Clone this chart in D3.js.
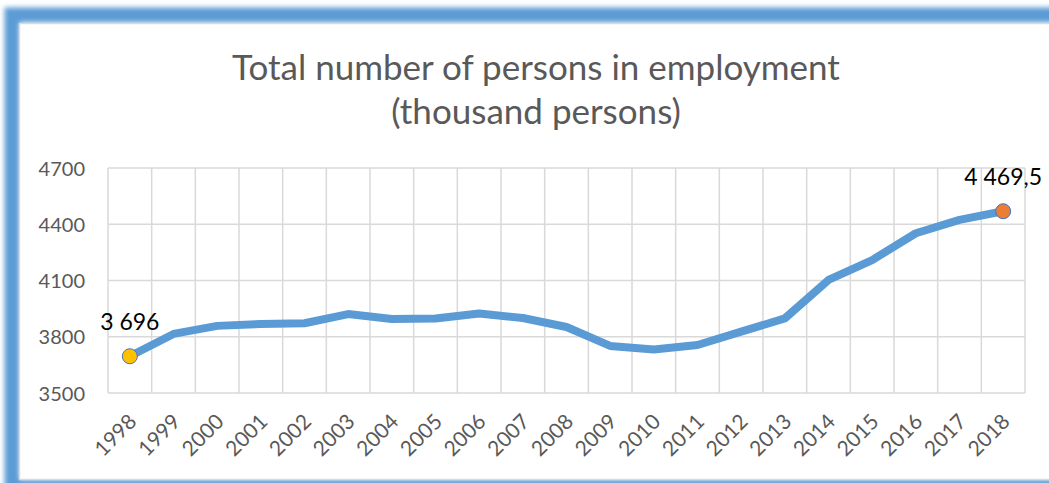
<!DOCTYPE html>
<html>
<head>
<meta charset="utf-8">
<script src="https://cdn.jsdelivr.net/npm/d3@7"></script>
<style>
  body { margin: 0; background: #fff; overflow: hidden; }
  svg { display: block; }
</style>
</head>
<body>
<script>
// data (thousand persons)
var years = ["1998","1999","2000","2001","2002","2003","2004","2005","2006","2007",
             "2008","2009","2010","2011","2012","2013","2014","2015","2016","2017","2018"];
var employed = [3696, 3815, 3858, 3868, 3872, 3921, 3895, 3897, 3924, 3900,
                3852, 3751, 3732, 3756, 3827, 3898, 4103, 4209, 4352, 4423, 4469.5];
var yTicks = [3500, 3800, 4100, 4400, 4700];
var titleLines = ["Total number of persons in employment", "(thousand persons)"];
var pointLabels = ["3 696", "4 469,5"];

var W = 1049, H = 483;
var plot = {left: 108, right: 1025, top: 168, bottom: 393};
var font = "Lato, 'Open Sans', sans-serif";

var svg = d3.select("body").append("svg")
    .attr("width", W)
    .attr("height", H);

/* blue glowing frame */
var defs = svg.append("defs");
defs.append("filter").attr("id", "glow")
    .attr("x", "-10%").attr("y", "-10%").attr("width", "120%").attr("height", "120%")
  .append("feGaussianBlur").attr("stdDeviation", 2.5);

svg.append("rect")
    .attr("x", 12).attr("y", 15)
    .attr("width", 1100).attr("height", 472)
    .attr("fill", "none")
    .attr("stroke", "#5b9bd5")
    .attr("stroke-width", 15)
    .attr("filter", "url(#glow)");

svg.append("rect")
    .attr("x", 19.5).attr("y", 23.5)
    .attr("width", 1100).attr("height", 456)
    .attr("fill", "#fff")
    .attr("stroke", "#d9d9d9")
    .attr("stroke-width", 1.5);

/* scales */
var x = d3.scaleBand().domain(years).range([plot.left, plot.right]);
var y = d3.scaleLinear().domain([3500, 4700]).range([plot.bottom, plot.top]);
var cx = function(d) { return x(d) + x.bandwidth() / 2; };

var g = svg.append("g");

/* gridlines */
g.selectAll(".hgrid")
    .data(yTicks)
    .enter().append("line")
    .attr("x1", plot.left).attr("x2", plot.right)
    .attr("y1", function(d) { return y(d); })
    .attr("y2", function(d) { return y(d); })
    .attr("stroke", "#d9d9d9").attr("stroke-width", 1.5);

var vlines = years.map(function(d) { return x(d); }).concat([plot.right]);
g.selectAll(".vgrid")
    .data(vlines)
    .enter().append("line")
    .attr("x1", function(d) { return d; }).attr("x2", function(d) { return d; })
    .attr("y1", plot.top).attr("y2", plot.bottom)
    .attr("stroke", "#d9d9d9").attr("stroke-width", 1.5);

/* y axis labels */
var yAxis = d3.axisLeft(y).tickValues(yTicks).tickSize(0).tickPadding(0)
    .tickFormat(d3.format("d"));
var ya = g.append("g")
    .attr("transform", "translate(85,0)")
    .call(yAxis);
ya.select(".domain").remove();
ya.selectAll("text")
    .attr("fill", "#595959")
    .attr("font-family", font)
    .attr("font-size", 20)
    .attr("dy", "0.35em");

/* x axis labels, rotated */
var xAxis = d3.axisBottom(x).tickSize(0).tickPadding(0);
var xa = g.append("g")
    .attr("transform", "translate(0," + plot.bottom + ")")
    .call(xAxis);
xa.select(".domain").remove();
xa.selectAll("text")
    .attr("fill", "#595959")
    .attr("font-family", font)
    .attr("font-size", 21)
    .attr("text-anchor", "end")
    .attr("dy", null)
    .attr("y", 0)
    .attr("transform", "translate(8,30) rotate(-45)");

/* line */
var line = d3.line()
    .x(function(d, i) { return cx(years[i]); })
    .y(function(d) { return y(d); });

g.append("path")
    .datum(employed)
    .attr("d", line)
    .attr("fill", "none")
    .attr("stroke", "#5b9bd5")
    .attr("stroke-width", 8)
    .attr("stroke-linejoin", "round");

/* first and last markers */
var ends = [
  {i: 0, fill: "#ffc000", label: pointLabels[0], dy: -26},
  {i: years.length - 1, fill: "#ed7d31", label: pointLabels[1], dy: -26}
];
g.selectAll(".mark")
    .data(ends)
    .enter().append("circle")
    .attr("cx", function(d) { return cx(years[d.i]); })
    .attr("cy", function(d) { return y(employed[d.i]); })
    .attr("r", 7.5)
    .attr("fill", function(d) { return d.fill; })
    .attr("stroke", "#4472c4")
    .attr("stroke-width", 1);

g.selectAll(".lab")
    .data(ends)
    .enter().append("text")
    .attr("x", function(d) { return cx(years[d.i]); })
    .attr("y", function(d) { return y(employed[d.i]) + d.dy; })
    .attr("text-anchor", "middle")
    .attr("fill", "#000")
    .attr("font-family", font)
    .attr("font-size", 23)
    .text(function(d) { return d.label; });

/* title */
svg.append("text")
    .attr("x", 536)
    .attr("text-anchor", "middle")
    .attr("fill", "#595959")
    .attr("font-family", font)
    .attr("font-size", 35)
    .selectAll("tspan")
    .data(titleLines)
    .enter().append("tspan")
    .attr("x", 536)
    .attr("y", function(d, i) { return 80 + i * 44; })
    .text(function(d) { return d; });
</script>
</body>
</html>
